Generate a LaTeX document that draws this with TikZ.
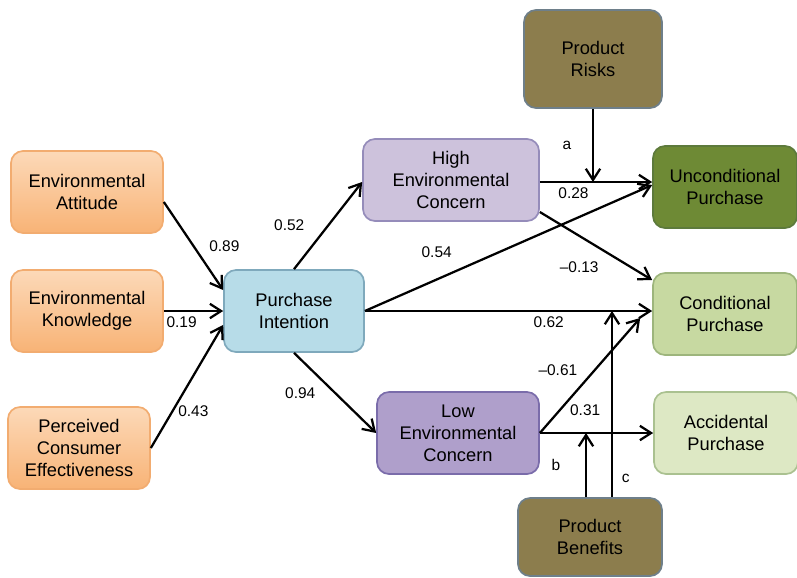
\documentclass[tikz,border=0pt]{standalone}
\usepackage{fontspec}
\setmainfont{Liberation Sans}
\usetikzlibrary{arrows.meta,positioning}
\definecolor{orangetop}{HTML}{FCD9B8}
\definecolor{orangebot}{HTML}{F8B376}
\definecolor{orangeline}{HTML}{F2AC70}
\definecolor{intentfill}{HTML}{B7DCE8}
\definecolor{intentline}{HTML}{7FA9BC}
\definecolor{highfill}{HTML}{CDC2DC}
\definecolor{highline}{HTML}{958CBA}
\definecolor{lowfill}{HTML}{AF9FCB}
\definecolor{lowline}{HTML}{7A6CAA}
\definecolor{productfill}{HTML}{8C7D4D}
\definecolor{productline}{HTML}{6E7F8A}
\definecolor{uncondfill}{HTML}{6E8A35}
\definecolor{uncondline}{HTML}{5D7A3C}
\definecolor{condfill}{HTML}{C7D9A1}
\definecolor{condline}{HTML}{9DB57C}
\definecolor{accfill}{HTML}{DDE8C4}
\definecolor{accline}{HTML}{AAC190}
\newcommand{\diagboxfont}{\fontsize{13}{15.6}\selectfont}
\newcommand{\diaglabelfont}{\fontsize{11}{13}\selectfont}
\tikzstyle{orangeblock}=[rectangle, rounded corners=0.3cm, draw=orangeline, line width=1.2pt, align=center, top color=orangetop, bottom color=orangebot, minimum width=38mm, minimum height=20.5mm, font=\diagboxfont]
\tikzstyle{plainblock}=[rectangle, rounded corners=0.3cm, line width=1.2pt, align=center, minimum width=36mm, minimum height=20.5mm, font=\diagboxfont]

\begin{document}
\begin{tikzpicture}[every node/.style = {font=\diaglabelfont}, >={Straight Barb[length=2.8mm,width=3.6mm]}]

\useasboundingbox (0,0) rectangle (19.925,-14.425);

\node[orangeblock] (att) at (2.175,-4.8) {Environmental\\Attitude};
\node[orangeblock] (know) at (2.175,-7.775) {Environmental\\Knowledge};
\node[orangeblock, minimum width=35.5mm] (pce) at (1.975,-11.2) {Perceived\\Consumer\\Effectiveness};
\node[plainblock, fill=intentfill, draw=intentline, minimum width=35mm] (pi) at (7.35,-7.775) {Purchase\\Intention};
\node[plainblock, fill=highfill, draw=highline, minimum width=44mm] (high) at (11.275,-4.5) {High\\Environmental\\Concern};
\node[plainblock, fill=lowfill, draw=lowline, minimum width=40.5mm] (low) at (11.45,-10.825) {Low\\Environmental\\Concern};
\node[plainblock, fill=productfill, draw=productline, minimum width=34.5mm, minimum height=24.5mm] (risk) at (14.825,-1.475) {Product\\Risks};
\node[plainblock, fill=uncondfill, draw=uncondline] (uncond) at (18.125,-4.675) {Unconditional\\Purchase};
\node[plainblock, fill=condfill, draw=condline] (cond) at (18.125,-7.85) {Conditional\\Purchase};
\node[plainblock, fill=accfill, draw=accline] (acc) at (18.15,-10.825) {Accidental\\Purchase};
\node[plainblock, fill=productfill, draw=productline, minimum width=36mm, minimum height=19.5mm] (benefit) at (14.75,-13.425) {Product\\Benefits};

\coordinate (highout) at ([yshift=-0.05cm]high.east);

\draw[->,ultra thick]([yshift=-0.25cm]att.east) -- node[midway,right=0.25cm] {0.89} ([yshift=0.525cm]pi.west);
\draw[->,ultra thick](know.east) -- node[pos=0.3,below] {0.19} (pi.west);
\draw[->,ultra thick](pce.east) -- node[pos=0.3,right] {0.43} ([yshift=-0.35cm]pi.west);
\draw[->,ultra thick](pi.north) -- node[midway,left=0.45cm] {0.52} ([yshift=-0.05cm]high.west);
\draw[->,ultra thick](pi.south) -- node[midway,left=0.35cm] {0.94} (low.west);
\draw[->,ultra thick](pi.east) -- node[pos=0.25,above=0.4cm] {0.54} ([yshift=0.05cm]uncond.west);
\draw[->,ultra thick](pi.east) -- node[pos=0.64,below] {0.62} (pi.east -| cond.west);
\draw[->,ultra thick](highout) -- node[pos=0.3,below] {0.28} (highout -| uncond.west);
\draw[->,ultra thick]([yshift=-0.8cm]high.east) -- node[pos=0.35,below=0.5cm] {\textendash0.13} ([yshift=0.85cm]cond.west);
\draw[->,ultra thick](risk.south) -- node[pos=0.5,left=0.4cm] {a} (risk.south |- highout);
\draw[->,ultra thick](low.east) -- node[pos=0.55,left=0.3cm] {\textendash0.61} ([xshift=-0.3cm,yshift=-0.1cm]cond.west);
\draw[->,ultra thick](low.east) -- node[pos=0.4,above=0.3cm] {0.31} (low.east -| acc.west);
\draw[->,ultra thick]([xshift=-0.1cm]benefit.north) -- node[midway,left=0.5cm] {b} ([xshift=-0.1cm]benefit.north |- low.east);
\draw[->,ultra thick]([xshift=0.55cm]benefit.north) -- node[pos=0.1,right=0.1cm] {c} ([xshift=0.55cm]benefit.north |- pi.east);

\end{tikzpicture}
\end{document}
